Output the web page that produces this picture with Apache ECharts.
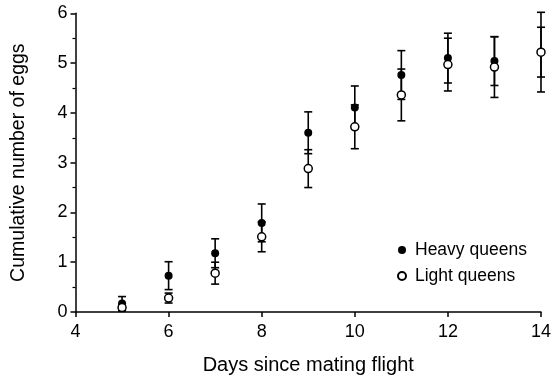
<!DOCTYPE html>
<html>
<head>
<meta charset="utf-8">
<script src="https://cdn.jsdelivr.net/npm/echarts@6/dist/echarts.min.js"></script>
<style>
  html, body { margin: 0; padding: 0; background: #fff; }
  #chart { width: 554px; height: 380px; }
</style>
</head>
<body>
<div id="chart"></div>
<script>
// days since mating flight
var days = [5, 6, 7, 8, 9, 10, 11, 12, 13, 14];
// heavy queens: mean and error
var heavyMean = [0.17, 0.73, 1.18, 1.79, 3.60, 4.11, 4.76, 5.10, 5.04, 5.22];
var heavyErr  = [0.14, 0.28, 0.29, 0.38, 0.42, 0.43, 0.49, 0.50, 0.49, 0.50];
// light queens: mean and error
var lightMean = [0.09, 0.28, 0.78, 1.51, 2.88, 3.72, 4.36, 4.97, 4.92, 5.22];
var lightErr  = [0.07, 0.10, 0.22, 0.30, 0.38, 0.44, 0.52, 0.53, 0.61, 0.80];
var xTicks = [4, 6, 8, 10, 12, 14];
var yTicks = [0, 1, 2, 3, 4, 5, 6];

function errData(mean, err) {
  return days.map(function (d, i) {
    return [d, mean[i] - err[i], mean[i] + err[i]];
  });
}

function errRender(params, api) {
  var x = api.value(0);
  var lo = api.coord([x, api.value(1)]);
  var hi = api.coord([x, api.value(2)]);
  var w = 4;
  var st = { stroke: "#000", lineWidth: 1.6 };
  return {
    type: "group",
    children: [
      { type: "line", shape: { x1: lo[0], y1: lo[1], x2: hi[0], y2: hi[1] }, style: st },
      { type: "line", shape: { x1: lo[0] - w, y1: lo[1], x2: lo[0] + w, y2: lo[1] }, style: st },
      { type: "line", shape: { x1: hi[0] - w, y1: hi[1], x2: hi[0] + w, y2: hi[1] }, style: st }
    ]
  };
}

var chart = echarts.init(document.getElementById("chart"));
var font = "Liberation Sans";
chart.setOption({
  animation: false,
  grid: { left: 75.5, right: 8.3, top: 13.3, bottom: 65 },
  legend: {
    orient: "vertical",
    left: 392,
    top: 236,
    itemWidth: 8,
    itemHeight: 8,
    itemGap: 8,
    textStyle: { fontFamily: font, fontSize: 17.5, color: "#000", padding: [0, 0, 0, 4] },
    data: [
      { name: "Heavy queens", icon: "circle" },
      { name: "Light queens", icon: "circle" }
    ]
  },
  xAxis: {
    type: "value",
    min: 4,
    max: 14,
    interval: 2,
    name: "Days since mating flight",
    nameLocation: "middle",
    nameGap: 43,
    nameTextStyle: { fontFamily: font, fontSize: 20, color: "#000" },
    axisLine: { lineStyle: { color: "#000", width: 1.5 } },
    axisTick: { show: true, inside: false, length: 5, lineStyle: { color: "#000", width: 1.5 } },
    axisLabel: { fontFamily: font, fontSize: 18, color: "#000", margin: 11 },
    splitLine: { show: false }
  },
  yAxis: {
    type: "value",
    min: 0,
    max: 6,
    interval: 1,
    name: "Cumulative number of eggs",
    nameLocation: "middle",
    nameGap: 47,
    nameTextStyle: { fontFamily: font, fontSize: 19.5, color: "#000" },
    axisLine: { show: true, lineStyle: { color: "#000", width: 1.5 } },
    axisTick: { show: true, inside: false, length: 5, lineStyle: { color: "#000", width: 1.5 } },
    minorTick: { show: true, splitNumber: 2, length: 3, lineStyle: { color: "#000", width: 1.2 } },
    axisLabel: { fontFamily: font, fontSize: 18, color: "#000", margin: 8 },
    splitLine: { show: false }
  },
  series: [
    {
      name: "heavyErr",
      type: "custom",
      renderItem: errRender,
      data: errData(heavyMean, heavyErr),
      z: 1
    },
    {
      name: "lightErr",
      type: "custom",
      renderItem: errRender,
      data: errData(lightMean, lightErr),
      z: 1
    },
    {
      name: "Heavy queens",
      type: "scatter",
      symbol: "circle",
      symbolSize: 8,
      itemStyle: { color: "#000", opacity: 1 },
      data: days.map(function (d, i) { return [d, heavyMean[i]]; }),
      z: 2
    },
    {
      name: "Light queens",
      type: "scatter",
      symbol: "circle",
      symbolSize: 8,
      itemStyle: { color: "#fff", borderColor: "#000", borderWidth: 1.5, opacity: 1 },
      data: days.map(function (d, i) { return [d, lightMean[i]]; }),
      z: 3
    }
  ]
});
</script>
</body>
</html>
